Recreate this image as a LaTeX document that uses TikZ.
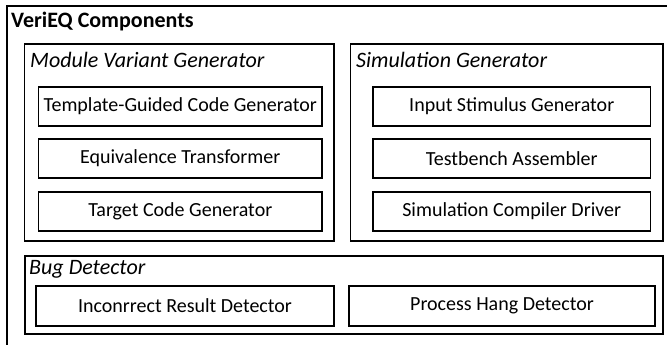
\documentclass[tikz,border=0pt]{standalone}
\usepackage{fontspec}
\setmainfont{Carlito}
\begin{document}
\begin{tikzpicture}[x=1pt,y=-1pt,
  grp/.style={draw=black,line width=1.3pt},
  comp/.style={draw=black,line width=1.3pt,font=\fontsize{20}{22}\selectfont},
  glabel/.style={anchor=west,inner sep=0pt,font=\fontsize{22}{24}\selectfont\itshape},
  ]
\useasboundingbox (0,0) rectangle (667,345);
\draw[grp] (7,360) -- (7,6) -- (690,6);
\node[anchor=west,inner sep=0pt,font=\fontsize{22}{24}\selectfont\bfseries] (title) at (11,22) {VeriEQ Components};
% groups
\draw[grp] (24.5,44) rectangle (334,241);
\node[glabel] (mvg) at (30,60) {Module Variant Generator};
\draw[grp] (350.5,44) rectangle (663,241);
\node[glabel] (sg) at (356,60) {Simulation Generator};
\draw[grp] (25,256) rectangle (663,334);
\node[glabel] (bd) at (29,269) {Bug Detector};
% components
\draw[comp] (38.5,87) rectangle node (c1) {Template-Guided Code Generator} (322,126);
\draw[comp] (38.5,139) rectangle node (c2) {Equivalence Transformer} (322,178);
\draw[comp] (38.5,192) rectangle node (c3) {Target Code Generator} (322,231);
\draw[comp] (373,87) rectangle node (s1) {Input Stimulus Generator} (650.5,126);
\draw[comp] (373,139) rectangle node (s2) {Testbench Assembler} (650.5,178);
\draw[comp] (373,192) rectangle node (s3) {Simulation Compiler Driver} (650.5,231);
\draw[comp] (36,286) rectangle node (b1) {Inconrrect Result Detector} (334,326);
\draw[comp] (349,286) rectangle node (b2) {Process Hang Detector} (655,326);
\end{tikzpicture}
\end{document}
